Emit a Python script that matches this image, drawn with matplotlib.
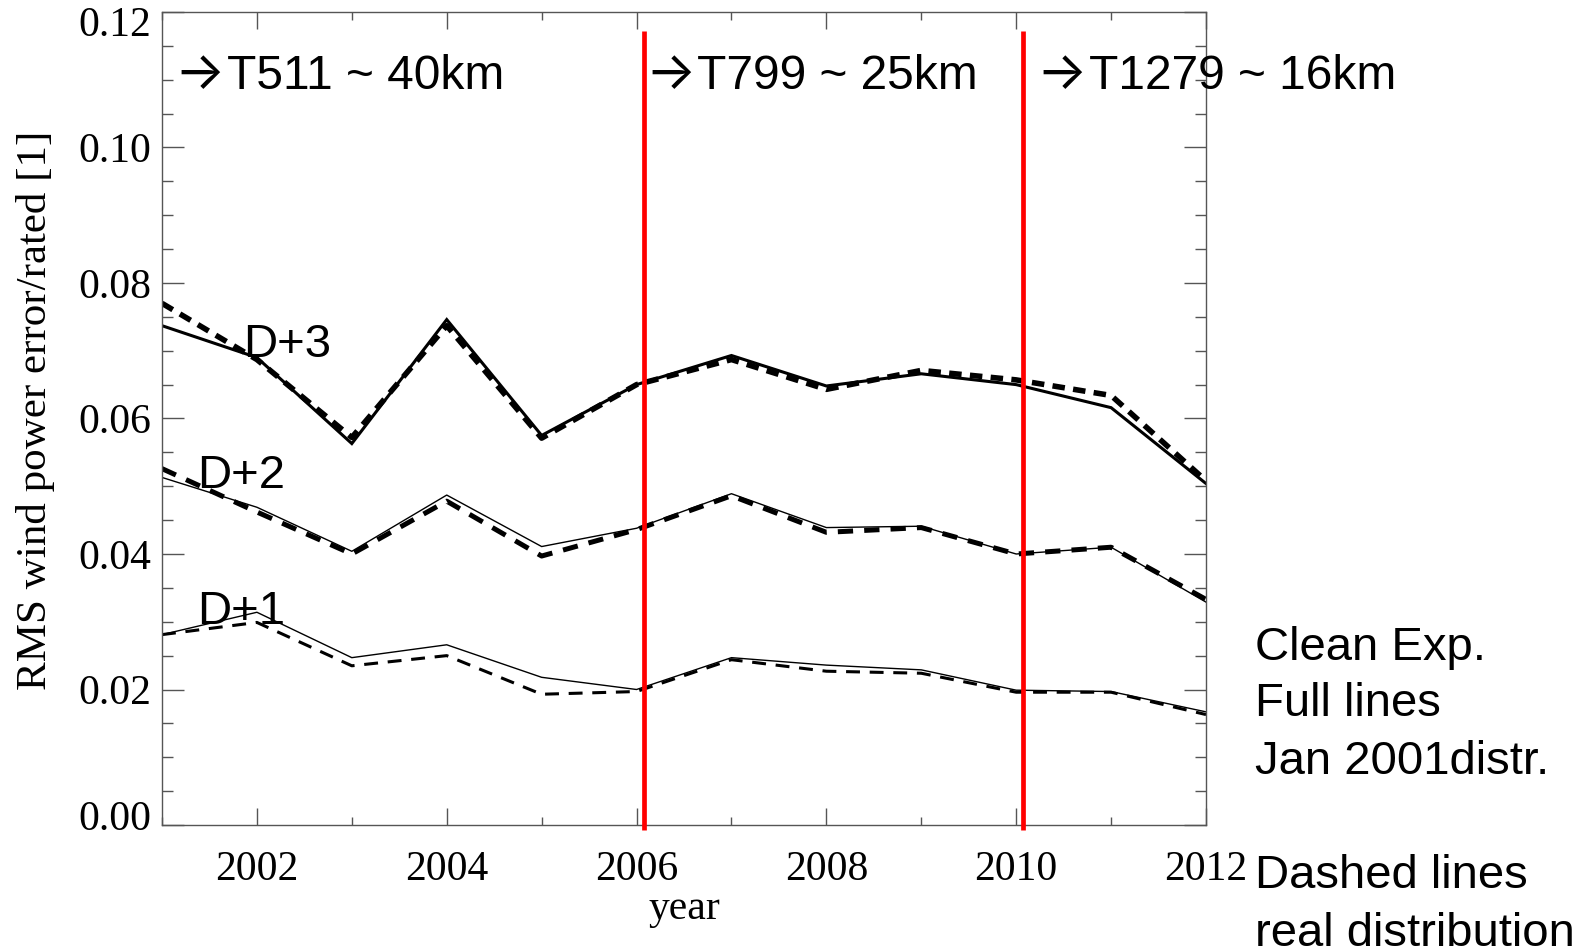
import matplotlib
matplotlib.use('Agg')
import matplotlib.pyplot as plt
from matplotlib.ticker import MultipleLocator
import matplotlib.transforms as mtrans

plt.rcParams['lines.scale_dashes'] = False

years = list(range(2001, 2013))
d3_clean = [0.0737, 0.0690, 0.0563, 0.0746, 0.0575, 0.0650, 0.0693, 0.0648, 0.0666, 0.0650, 0.0616, 0.0504]
d3_real  = [0.0770, 0.0687, 0.0572, 0.0737, 0.0571, 0.0650, 0.0687, 0.0643, 0.0671, 0.0657, 0.0634, 0.0508]
d2_clean = [0.0513, 0.0469, 0.0404, 0.0487, 0.0411, 0.0438, 0.0489, 0.0439, 0.0441, 0.0400, 0.0410, 0.0329]
d2_real  = [0.0526, 0.0462, 0.0400, 0.0478, 0.0397, 0.0436, 0.0486, 0.0432, 0.0439, 0.0400, 0.0410, 0.0333]
d1_clean = [0.0281, 0.0314, 0.0247, 0.0266, 0.0218, 0.0200, 0.0247, 0.0236, 0.0229, 0.0199, 0.0197, 0.0167]
d1_real  = [0.0281, 0.0299, 0.0235, 0.0250, 0.0193, 0.0197, 0.0244, 0.0227, 0.0224, 0.0196, 0.0196, 0.0163]

resolution_changes = [2006.08, 2010.07]
resolution_labels = ['T511 ~ 40km', 'T799 ~ 25km', 'T1279 ~ 16km']
resolution_label_x = [2001.68, 2006.64, 2010.77]
arrow_char = '\u2192'
lead_labels = ['D+3', 'D+2', 'D+1']
right_lines = ['Clean Exp.', 'Full lines', 'Jan 2001distr.', 'Dashed lines', 'real distribution']

W, H = 1586, 948
fig = plt.figure(figsize=(W / 100, H / 100), dpi=100)
L, R, T, B = 162, 1206, 12, 825
ax = fig.add_axes([L / W, 1 - B / H, (R - L) / W, (B - T) / H])

serif = ['Liberation Serif', 'DejaVu Serif']
sans = ['Liberation Sans', 'DejaVu Sans']

ax.plot(years, d3_clean, color='black', lw=2.2, solid_joinstyle='miter')
ax.plot(years, d3_real, color='black', lw=4.0, dashes=(9, 6))
ax.plot(years, d2_clean, color='black', lw=1.0)
ax.plot(years, d2_real, color='black', lw=3.6, dashes=(11, 8))
ax.plot(years, d1_clean, color='black', lw=1.0)
ax.plot(years, d1_real, color='black', lw=2.2, dashes=(10, 7))

for xr in resolution_changes:
    ax.plot([xr, xr], [-0.0007, 0.1172], color='#ff0000', lw=3.4, clip_on=False, zorder=5,
            solid_capstyle='butt')

ax.set_xlim(2001, 2012)
ax.set_ylim(0, 0.12)
ax.xaxis.set_minor_locator(MultipleLocator(1))
ax.yaxis.set_minor_locator(MultipleLocator(0.005))
ax.set_xticks(range(2002, 2013, 2))
ax.set_xticklabels([str(y) for y in range(2002, 2013, 2)])
ax.set_yticks([0, 0.02, 0.04, 0.06, 0.08, 0.10, 0.12])
ax.set_yticklabels(['0.00', '0.02', '0.04', '0.06', '0.08', '0.10', '0.12'])

spine_col = '#555555'
for s in ax.spines.values():
    s.set_color(spine_col)
    s.set_linewidth(1.0)
ax.tick_params(which='both', direction='in', top=True, right=True, color=spine_col, width=1.0)
ax.tick_params(axis='x', which='major', length=12, pad=18, labelsize=30)
ax.tick_params(axis='x', which='minor', length=6)
ax.tick_params(axis='y', which='major', length=16, pad=8, labelsize=30)
ax.tick_params(axis='y', which='minor', length=8)
for lab in ax.get_xticklabels() + ax.get_yticklabels():
    lab.set_family(serif)
    lab.set_color('black')

ylabs = ax.get_yticklabels()
ylabs[0].set_transform(ylabs[0].get_transform() + mtrans.ScaledTranslation(0, 10 / 100, fig.dpi_scale_trans))
ylabs[-1].set_transform(ylabs[-1].get_transform() + mtrans.ScaledTranslation(0, -9 / 100, fig.dpi_scale_trans))

fig.text(35.5 / W, 1 - 410 / H, 'RMS wind power error/rated [1]', rotation=90, ha='center', va='center',
         fontsize=31, family=serif)
fig.text(684 / W, 1 - 909 / H, 'year', ha='center', va='center', fontsize=30, family=serif)

for lab, x in zip(resolution_labels, resolution_label_x):
    ax.text(x, 0.1087, lab, fontsize=34.5, family=sans, va='baseline', ha='left', zorder=6)
    arr = ax.text(x, 0.1087, arrow_char, fontsize=38, family=['Inter', 'DejaVu Sans'],
                  va='baseline', ha='right', zorder=6)
    arr.set_transform(ax.transData + mtrans.ScaledTranslation(-2 / 100, -1 / 100, fig.dpi_scale_trans))

lead_x = [2001.85, 2001.37, 2001.37]
lead_y = [0.0691, 0.0497, 0.0297]
for lab, x, y in zip(lead_labels, lead_x, lead_y):
    ax.text(x, y, lab, fontsize=34, family=sans, va='baseline', ha='left', zorder=6)

baselines = [659.5, 716, 774, 888, 946]
for txt, yb in zip(right_lines, baselines):
    fig.text(1255 / W, 1 - yb / H, txt, fontsize=34, family=sans, va='baseline', ha='left')

fig.savefig('out.png', dpi=100)
